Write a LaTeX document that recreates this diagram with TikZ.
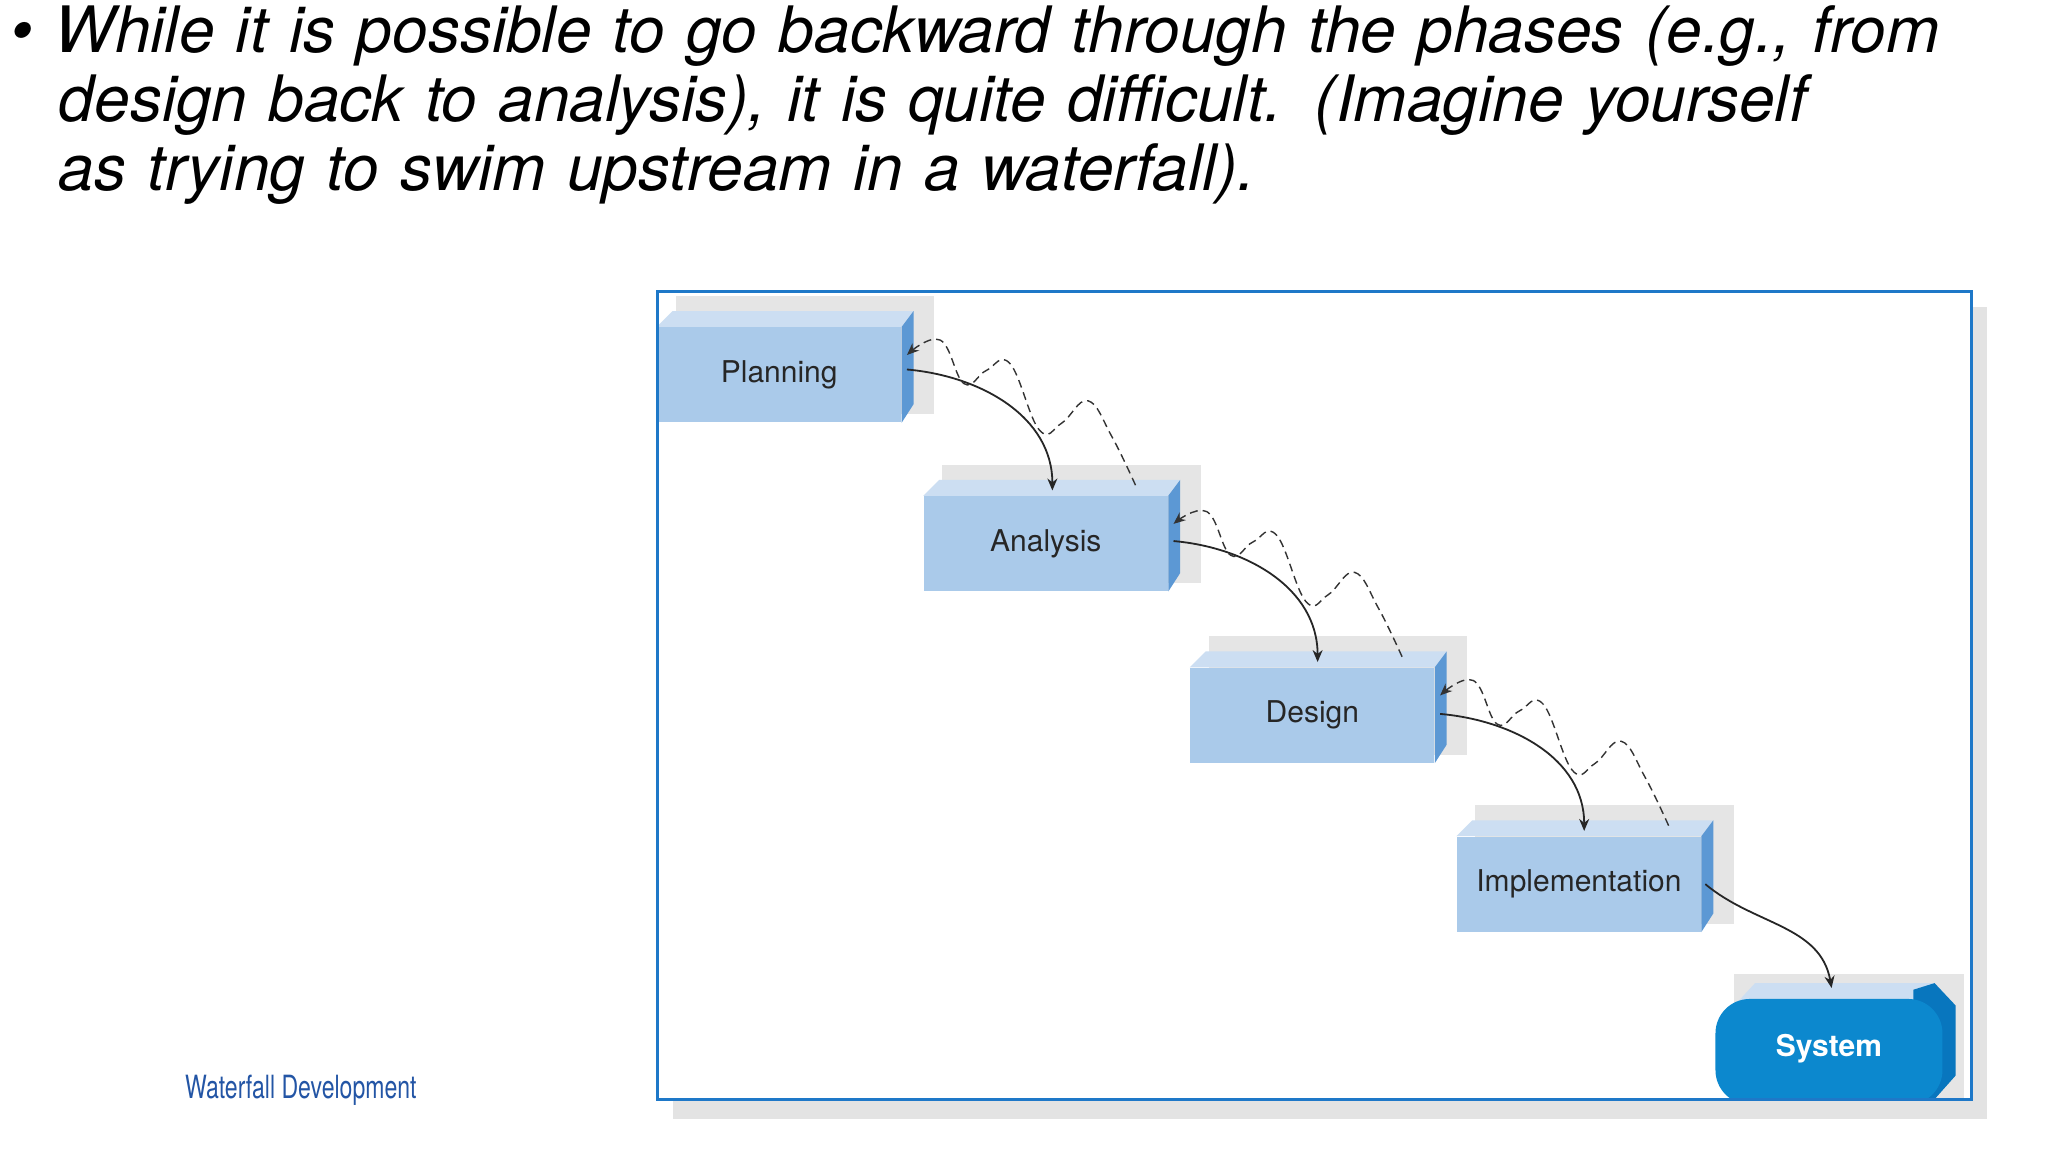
\documentclass[tikz,border=0pt]{standalone}
\usepackage{fontspec}
\setmainfont{TeX Gyre Heros}
\usetikzlibrary{calc,arrows.meta}
\definecolor{front}{RGB}{170,202,234}
\definecolor{topf}{RGB}{204,222,242}
\definecolor{side}{RGB}{92,152,212}
\definecolor{sys}{RGB}{12,136,206}
\definecolor{sysside}{RGB}{8,118,190}
\definecolor{frame}{RGB}{30,120,200}
\definecolor{wf}{RGB}{35,85,165}
\begin{document}
\begin{tikzpicture}[x=0.6598pt,y=-0.6598pt,
  box/.style={fill=front,minimum width=185*0.6598pt,minimum height=72*0.6598pt,inner sep=0pt,font=\fontsize{15}{15}\selectfont,text=black!85},
  fl/.style={-{Stealth[length=6pt,width=5pt]},line width=0.9pt,black!85},
  bk/.style={-{Stealth[length=6pt,width=5pt]},line width=0.7pt,dashed,dash pattern=on 4pt off 2.5pt,black!80}]
\useasboundingbox (0,0) rectangle (1552,874);
% heading
\node[anchor=north west,text width=1530*0.6598pt,align=left,font=\fontsize{32}{36.5}\selectfont\itshape,inner sep=0pt] (head) at (8,4)
{\textbullet\ While it is possible to go backward through the phases (e.g., from\\[-2pt]
\hspace*{0.75em}design back to analysis), it is quite difficult. (Imagine yourself\\[-2pt]
\hspace*{0.75em}as trying to swim upstream in a waterfall).};
% frame
\fill[black!11] (510,233) rectangle (1506,848);
\fill[white] (498,221) rectangle (1494,833);
% box shadows
\foreach \x/\y in {498/248,700/376,902/506,1104/634}{
  \fill[black!10] (\x+14,\y-24) rectangle (\x+210,\y+66);}
\fill[black!10] (1314,738) rectangle (1488,833);
\node[box] (pl) at (590.5,284) {Planning};
\node[box] (an) at (792.5,412) {Analysis};
\node[box] (de) at (994.5,542) {Design};
\node[box] (im) at (1196.5,670) {Implementation};
\foreach \n in {pl,an,de,im}{
  \fill[topf] (\n.north west) -- ++(12,-12) -- ($(\n.north east)+(9,-12)$) -- (\n.north east) -- cycle;
  \fill[side] (\n.north east) -- ++(9,-12) -- ($(\n.south east)+(9,-14)$) -- (\n.south east) -- cycle;}
% system
\fill[topf] (1318,758) -- (1330,745) -- (1466,745) -- (1478,758) -- cycle;
\fill[sysside] (1450,750) -- (1466,745) -- (1482,762) -- (1482,815) -- (1466,833) -- (1450,833) -- cycle;
\node[fill=sys,rounded corners=26*0.6598pt,minimum width=172*0.6598pt,minimum height=80*0.6598pt,inner sep=0pt,text=white,font=\fontsize{15}{15}\selectfont\bfseries] (sy) at (1386,797) {};
\node[text=white,font=\fontsize{15}{15}\selectfont\bfseries] (syt) at (1386,795) {System};
\fill[white] (1290,833.6) rectangle (1494,845);
\fill[black!11] (1290,833.6) rectangle (1506,848);
\draw[frame,line width=1.4pt] (498,221) rectangle (1494,833);
% forward arrows
\draw[fl] ($(pl.east)+(4,-4)$) to[out=-5,in=90] ($(an.north)+(5,-4)$);
\draw[fl] ($(an.east)+(4,-2)$) to[out=-5,in=90] ($(de.north)+(4,-4)$);
\draw[fl] ($(de.east)+(4,-1)$) to[out=-5,in=90] ($(im.north)+(4,-4)$);
\draw[fl] ($(im.east)+(3,0)$) to[out=-40,in=100] ($(sy.north)+(2,-8)$);
% backward wavy arrows
\foreach \n/\m in {pl/an,an/de,de/im}{
  \draw[bk] plot[smooth,tension=0.7] coordinates {
    ($(\m.north)+(68,-8)$) ($(\m.north)+(50,-45)$) ($(\m.north)+(32,-72)$) ($(\m.north)+(12,-55)$)
    ($(\m.north)+(-5,-50)$) ($(\m.north)+(-27,-100)$) ($(\m.north)+(-45,-95)$) ($(\m.north)+(-62,-85)$)
    ($(\m.north)+(-80,-118)$) ($(\n.east)+(4,-15)$)};}
% caption
\node[text=wf,font=\fontsize{16}{16}\selectfont,xscale=0.72,inner sep=0pt] (cap) at (228,826) {Waterfall Development};
\end{tikzpicture}
\end{document}
